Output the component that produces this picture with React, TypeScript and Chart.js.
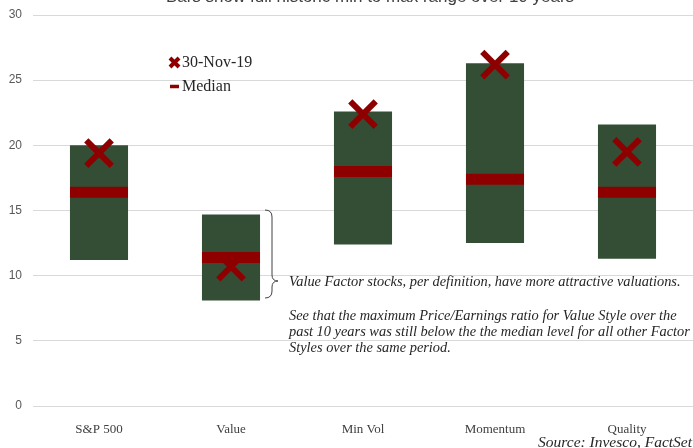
import React, { useEffect, useRef } from "react";
import { Chart, registerables } from "chart.js";

Chart.register(...registerables);

const categories = ["S&P 500", "Value", "Min Vol", "Momentum", "Quality"];
const minValues = [11.2, 8.1, 12.4, 12.5, 11.3];
const maxValues = [20.0, 14.7, 22.6, 26.3, 21.6];
const medianValues = [16.4, 11.4, 18.0, 17.4, 16.4];
const currentValues = [19.4, 10.7, 22.4, 26.2, 19.5];
const yTicks = [0, 5, 10, 15, 20, 25, 30];

const titleText = "Bars show full historic min to max range over 10 years";
const noteLines = [
  "Value Factor stocks, per definition, have more attractive valuations.",
  "",
  "See that the maximum Price/Earnings ratio for Value Style over the",
  "past 10 years was still below the the median level for all other Factor",
  "Styles over the same period.",
];
const sourceText = "Source: Invesco, FactSet";

const OFF = 20; // canvas shifted up by this many px
const GREEN = "#344e36";
const RED = "#8e0000";

const overlay = {
  id: "overlay",
  afterDraw(chart: any) {
    const ctx = chart.ctx;
    ctx.save();
    // title (cut off at top)
    ctx.fillStyle = "#404040";
    ctx.font = "17px 'Liberation Sans'";
    ctx.textAlign = "center";
    ctx.textBaseline = "alphabetic";
    ctx.fillText(titleText, 370, 1.5 + OFF);

    // legend
    const lx = 174.5, ly = 62.5 + OFF;
    ctx.strokeStyle = RED;
    ctx.lineWidth = 4;
    ctx.beginPath();
    ctx.moveTo(lx - 4.5, ly - 4.5);
    ctx.lineTo(lx + 4.5, ly + 4.5);
    ctx.moveTo(lx + 4.5, ly - 4.5);
    ctx.lineTo(lx - 4.5, ly + 4.5);
    ctx.stroke();
    ctx.lineWidth = 3.5;
    ctx.beginPath();
    ctx.moveTo(170, 86.5 + OFF);
    ctx.lineTo(179, 86.5 + OFF);
    ctx.stroke();
    ctx.fillStyle = "#262626";
    ctx.font = "16px 'Liberation Serif'";
    ctx.textAlign = "left";
    ctx.textBaseline = "middle";
    ctx.fillText(chart.data.datasets[2].label, 182, 63 + OFF);
    ctx.fillText(chart.data.datasets[1].label, 182, 87 + OFF);

    // brace
    ctx.strokeStyle = "#404040";
    ctx.lineWidth = 1;
    ctx.beginPath();
    ctx.moveTo(265, 210 + OFF);
    ctx.quadraticCurveTo(272, 210 + OFF, 272, 217 + OFF);
    ctx.lineTo(272, 275 + OFF);
    ctx.quadraticCurveTo(272, 281 + OFF, 278, 281 + OFF);
    ctx.quadraticCurveTo(272, 281 + OFF, 272, 287 + OFF);
    ctx.lineTo(272, 291 + OFF);
    ctx.quadraticCurveTo(272, 298 + OFF, 265, 298 + OFF);
    ctx.stroke();

    // note text
    ctx.fillStyle = "#262626";
    ctx.font = "italic 14.4px 'Liberation Serif'";
    ctx.textAlign = "left";
    ctx.textBaseline = "middle";
    const ys = [282, 299, 316, 332, 348];
    noteLines.forEach((t, i) => {
      if (t) ctx.fillText(t, 289, ys[i] + OFF);
    });

    // source
    ctx.font = "italic 15.5px 'Liberation Serif'";
    ctx.textAlign = "right";
    ctx.fillText(sourceText, 692, 443 + OFF);
    ctx.restore();
  },
};

export default function App() {
  const ref = useRef<HTMLCanvasElement>(null);
  useEffect(() => {
    const canvas = ref.current!;
    const chart = new Chart(canvas, {
      type: "bar",
      data: {
        labels: categories,
        datasets: [
          {
            type: "bar",
            label: "Range",
            data: minValues.map((v, i) => [v, maxValues[i]]) as any,
            backgroundColor: GREEN,
            borderWidth: 0,
            barPercentage: 0.44,
            categoryPercentage: 1,
            order: 3,
          },
          {
            type: "line",
            label: "Median",
            data: medianValues,
            showLine: false,
            pointStyle: "line",
            pointRadius: 29,
            pointHoverRadius: 29,
            borderColor: RED,
            backgroundColor: RED,
            pointBorderWidth: 11,
            borderWidth: 11,
            clip: false,
            order: 2,
          } as any,
          {
            type: "line",
            label: "30-Nov-19",
            data: currentValues,
            showLine: false,
            pointStyle: "crossRot",
            pointRadius: 18,
            pointHoverRadius: 18,
            borderColor: RED,
            backgroundColor: RED,
            pointBorderWidth: 6,
            borderWidth: 6,
            clip: false,
            order: 1,
          } as any,
        ],
      },
      options: {
        responsive: false,
        animation: false,
        layout: { autoPadding: false, padding: { top: 35, right: 0, left: 0, bottom: 0 } },
        plugins: {
          legend: { display: false },
          tooltip: { enabled: false },
          title: { display: false },
        },
        scales: {
          x: {
            grid: { display: false },
            border: { display: false },
            ticks: {
              color: "#404040",
              font: { family: "'Liberation Serif'", size: 13 },
              padding: 8,
            },
            afterFit: (s: any) => {
              s.height = 42;
            },
          },
          y: {
            min: 0,
            max: 30,
            afterBuildTicks: (s: any) => {
              s.ticks = yTicks.map((v) => ({ value: v }));
            },
            grid: { color: "#d9d9d9", lineWidth: 1, drawTicks: false },
            border: { display: false },
            ticks: {
              color: "#595959",
              font: { family: "'Liberation Sans'", size: 12 },
              padding: 11,
            },
            afterFit: (s: any) => {
              s.width = 33;
            },
          },
        },
      },
      plugins: [overlay],
    });
    return () => chart.destroy();
  }, []);
  return (
    <canvas
      ref={ref}
      width={693}
      height={448 + OFF}
      style={{ position: "absolute", left: 0, top: -OFF, width: 693, height: 448 + OFF }}
    />
  );
}
